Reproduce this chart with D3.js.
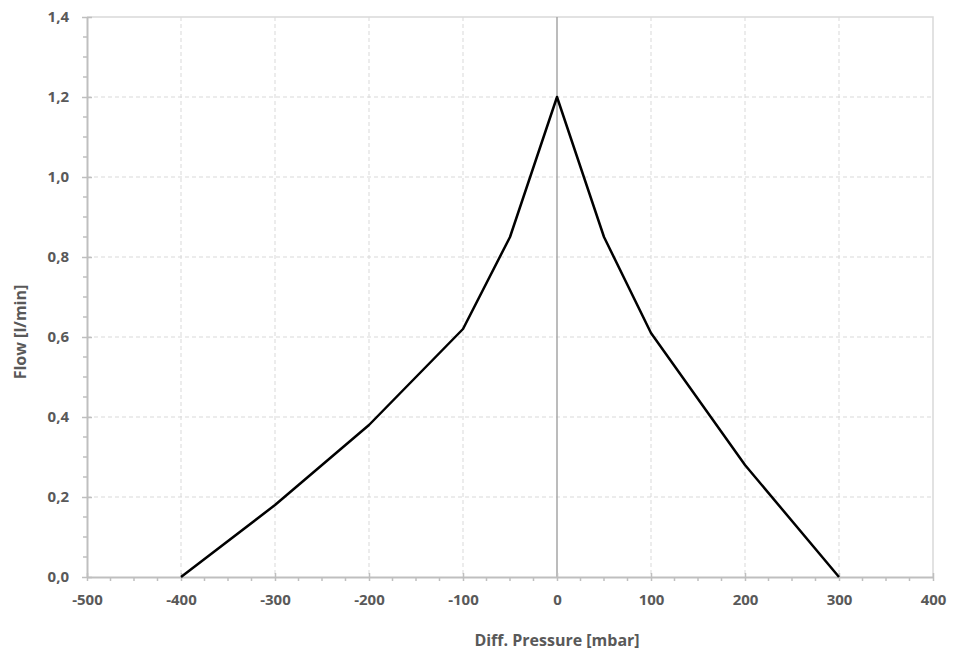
<!DOCTYPE html>
<meta charset="utf-8">
<html>
<head>
<style>
  body { margin: 0; background: #fff; }
  text { font-family: "Open Sans", "Liberation Sans", sans-serif; font-weight: bold; fill: #595959; }
  .grid line { stroke: #d9d9d9; stroke-dasharray: 4,3; stroke-width: 1; }
  .axis text { font-size: 15px; }
</style>
</head>
<body>
<svg width="960" height="663"></svg>
<script src="https://d3js.org/d3.v7.min.js"></script>
<script>
  // pressure [mbar] vs flow [l/min]
  var pressure = [-400, -300, -200, -100, -50, 0, 50, 100, 200, 300];
  var flow = [0, 0.18, 0.38, 0.62, 0.85, 1.2, 0.85, 0.61, 0.28, 0];
  var xTicks = [-500, -400, -300, -200, -100, 0, 100, 200, 300, 400];
  var yTicks = [0, 0.2, 0.4, 0.6, 0.8, 1.0, 1.2, 1.4];

  var svg = d3.select("svg");
  var plotL = 87, plotR = 933, plotT = 17, plotB = 577;

  var x = d3.scaleLinear().domain([-500, 400]).range([plotL, plotR]);
  var y = d3.scaleLinear().domain([0, 1.4]).range([plotB, plotT]);

  // dashed grid
  var grid = svg.append("g").attr("class", "grid");
  grid.selectAll(".vx").data(xTicks.filter(d => d != -500 && d != 0 && d != 400)).enter().append("line")
      .attr("x1", d => x(d)).attr("x2", d => x(d)).attr("y1", plotT).attr("y2", plotB);
  grid.selectAll(".hy").data(yTicks.filter(d => d != 0 && d != 1.4)).enter().append("line")
      .attr("x1", plotL).attr("x2", plotR).attr("y1", d => y(d)).attr("y2", d => y(d));

  // border top/right
  svg.append("path")
      .attr("d", "M" + plotL + "," + plotT + "H" + plotR + "V" + plotB)
      .attr("fill", "none").attr("stroke", "#d9d9d9").attr("stroke-width", 1.5);

  // zero line
  svg.append("line")
      .attr("x1", x(0)).attr("x2", x(0)).attr("y1", plotT).attr("y2", plotB)
      .attr("stroke", "#a6a6a6").attr("stroke-width", 1.5);

  var axisColor = "#bfbfbf";

  // minor ticks
  var xMinor = d3.range(-500, 401, 25).filter(d => d % 100 != 0);
  svg.append("g").selectAll("line").data(xMinor).enter().append("line")
      .attr("x1", d => x(d)).attr("x2", d => x(d)).attr("y1", plotB).attr("y2", plotB + 4)
      .attr("stroke", axisColor).attr("stroke-width", 1.5);
  var yMinor = d3.range(0, 28).map(i => i * 0.05).filter(d => Math.round(d * 100) % 20 != 0);
  svg.append("g").selectAll("line").data(yMinor).enter().append("line")
      .attr("x1", plotL - 4).attr("x2", plotL).attr("y1", d => y(d)).attr("y2", d => y(d))
      .attr("stroke", axisColor).attr("stroke-width", 1.5);

  // axes
  var xAxis = svg.append("g").attr("class", "axis").attr("transform", "translate(0," + plotB + ")")
      .call(d3.axisBottom(x).tickValues(xTicks).tickSizeInner(4).tickSizeOuter(0).tickPadding(13)
        .tickFormat(d => String(d)));
  xAxis.selectAll(".tick line").attr("y1", -4);
  var yAxis = svg.append("g").attr("class", "axis").attr("transform", "translate(" + plotL + ",0)")
      .call(d3.axisLeft(y).tickValues(yTicks).tickSizeInner(5).tickSizeOuter(0).tickPadding(13)
        .tickFormat(d => d.toFixed(1).replace(".", ",")));
  yAxis.selectAll(".tick line").attr("x1", 5);

  [xAxis, yAxis].forEach(function(a) {
    a.attr("font-size", 15);
    a.select(".domain").attr("stroke", axisColor).attr("stroke-width", 2);
    a.selectAll(".tick line").attr("stroke", axisColor).attr("stroke-width", 1.5);
    a.selectAll(".tick text").attr("font-size", 15).attr("fill", "#595959");
  });

  // line
  var line = d3.line().x((d, i) => x(pressure[i])).y(d => y(d));
  svg.append("path")
      .datum(flow)
      .attr("d", line)
      .attr("fill", "none")
      .attr("stroke", "#000")
      .attr("stroke-width", 2.5)
      .attr("stroke-linejoin", "round");

  // titles
  svg.append("text")
      .attr("x", x(0)).attr("y", 646)
      .attr("text-anchor", "middle")
      .style("font-size", "16px")
      .text("Diff. Pressure [mbar]");
  svg.append("text")
      .attr("transform", "translate(26,332) rotate(-90)")
      .attr("text-anchor", "middle")
      .style("font-size", "16px")
      .text("Flow [l/min]");
</script>
</body>
</html>
